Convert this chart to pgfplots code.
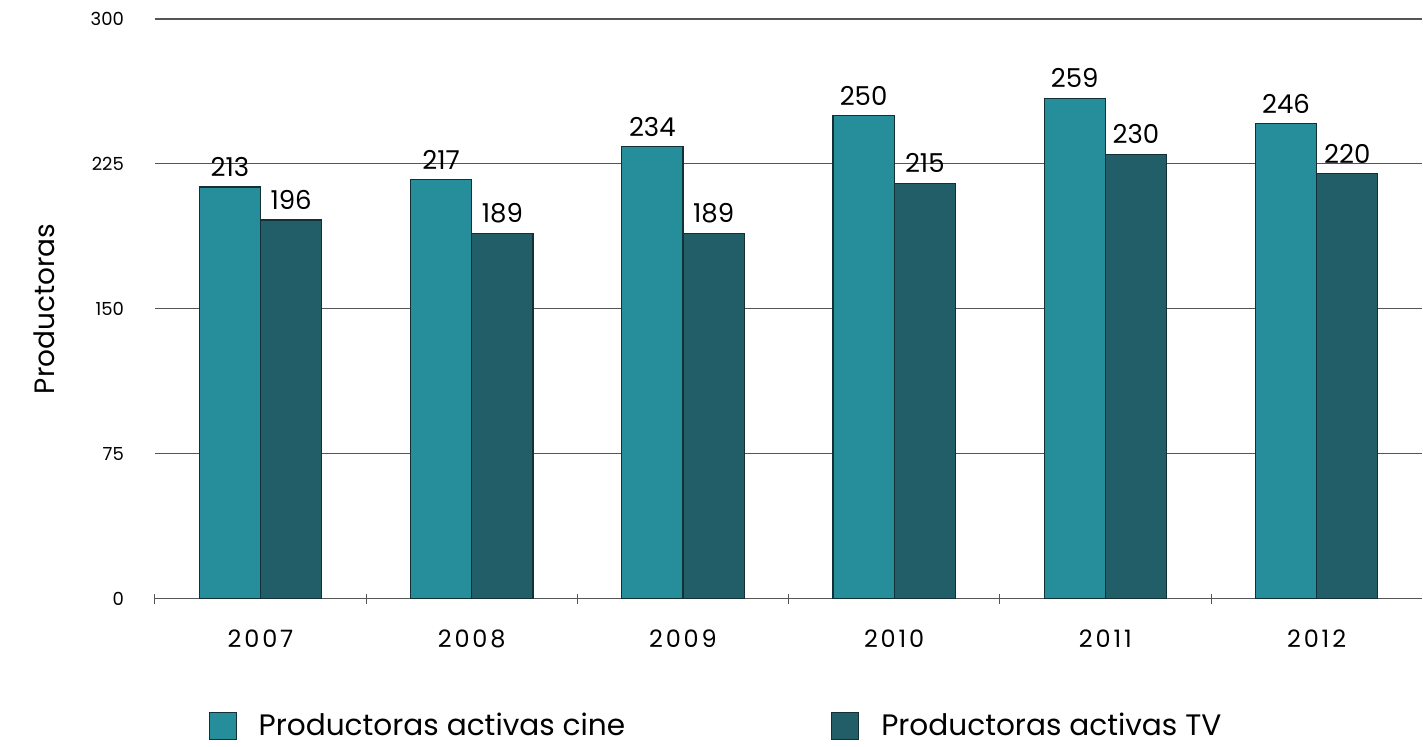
\documentclass[border=0pt]{standalone}
\usepackage{fontspec}
\setmainfont{Poppins}
\usepackage{pgfplots}
\pgfplotsset{compat=1.18}
\definecolor{cine}{RGB}{38,142,154}
\definecolor{tv}{RGB}{34,94,104}
\definecolor{edge}{RGB}{18,48,54}
\definecolor{gridc}{RGB}{85,85,85}

\begin{document}
\begin{tikzpicture}
\begin{axis}[
  scale only axis,
  width=634pt, height=290pt,
  ybar=0pt, bar width=0.29,
  xmin=-0.5, xmax=5.5, ymin=0, ymax=300,
  xtick={-0.5,0.5,1.5,2.5,3.5,4.5},
  xticklabels={},
  xtick style={gridc, line width=0.5pt},
  extra x ticks={0,1,2,3,4,5},
  extra x tick labels={2007,2008,2009,2010,2011,2012},
  extra x tick style={major tick length=0pt},
  ytick={0,75,150,225,300},
  ymajorgrids, grid style={gridc, line width=0.6pt},
  axis x line*=bottom, axis y line*=left,
  y axis line style={draw=none},
  x axis line style={gridc, line width=0.8pt, -},
  ytick style={gridc, line width=0.5pt},
  major tick length=5pt,
  xtick align=center,
  /pgf/number format/assume math mode=true,
  yticklabel style={font=\fontsize{9}{10}\selectfont, xshift=-12pt},
  xticklabel style={font=\addfontfeatures{LetterSpace=12}\fontsize{12}{13}\selectfont, yshift=-12pt},
  ylabel={Productoras},
  ylabel style={font=\fontsize{14}{16}\selectfont, yshift=11pt},
  nodes near coords,
  every node near coord/.append style={font=\fontsize{13}{15}\selectfont, black, yshift=1.5pt},
  legend columns=2,
  legend style={draw=none, at={(0.042,-0.19)}, anchor=north west,
    font=\fontsize{14.8}{16}\selectfont, inner sep=0pt,
    /tikz/every even column/.append style={column sep=101pt}},
  legend image code/.code={\draw[#1, draw=edge] (0pt,-6.75pt) rectangle (13.5pt,6.75pt);},
]
\addplot[fill=cine, draw=edge, line width=0.6pt] coordinates {(0,213)(1,217)(2,234)(3,250)(4,259)(5,246)};
\addlegendentry{\hspace{9pt}Productoras activas cine}
\addplot[fill=tv, draw=edge, line width=0.6pt] coordinates {(0,196)(1,189)(2,189)(3,215)(4,230)(5,220)};
\addlegendentry{\hspace{9pt}Productoras activas TV}
\end{axis}
\path (-77.5pt,-74pt) (0pt,299.5pt);
\end{tikzpicture}
\end{document}
